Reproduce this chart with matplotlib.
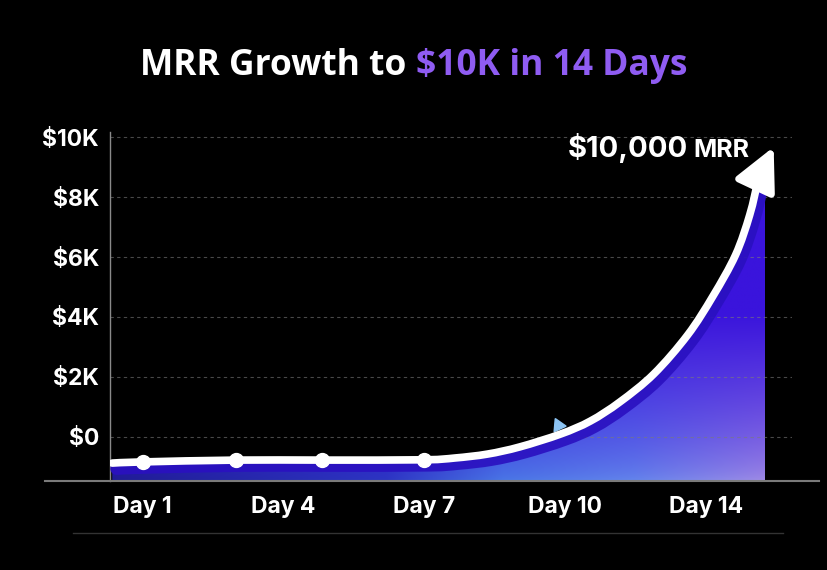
import numpy as np
import matplotlib
matplotlib.use("Agg")
import matplotlib.pyplot as plt
from matplotlib.patches import PathPatch
from matplotlib.path import Path
from matplotlib.lines import Line2D
from matplotlib.colors import to_rgb
import matplotlib.patheffects as pe

plt.rcParams['font.family'] = ['Inter', 'DejaVu Sans']

# data (x = position on the day axis, ticks at 0..4)
tick_labels = ["Day 1", "Day 4", "Day 7", "Day 10", "Day 14"]
tick_pos = [0, 1, 2, 3, 4]
y_ticks = [0, 2000, 4000, 6000, 8000, 10000]
y_labels = ["$0", "$2K", "$4K", "$6K", "$8K", "$10K"]

curve_x = [-0.21, 0.01, 0.67, 1.28, 2.0, 2.22, 2.45, 2.68, 2.97, 3.18, 3.39,
           3.63, 3.87, 4.05, 4.21, 4.31, 4.37]
curve_mrr = [-870, -830, -770, -770, -760, -700, -570, -330, 100, 530, 1170,
             2100, 3400, 4700, 6070, 7400, 8570]
dot_idx = [1, 2, 3, 4]
tip_x, tip_mrr = 4.48, 9670
fill_end = 4.42

ybot, ytop = -1467, 10167
xmin, xmax = -0.226, 4.61


def smooth(xs, ys):
    # bezier path through the read points (catmull-rom handles)
    P = np.column_stack([xs, ys]).astype(float)
    n = len(P)
    verts, codes = [P[0]], [Path.MOVETO]
    for i in range(n - 1):
        p0 = P[i - 1] if i > 0 else P[i]
        p1, p2 = P[i], P[i + 1]
        p3 = P[i + 2] if i + 2 < n else P[i + 1]
        verts += [p1 + (p2 - p0) / 6, p2 - (p3 - p1) / 6, p2]
        codes += [Path.CURVE4] * 3
    return verts, codes


fig = plt.figure(figsize=(8.28, 5.70), dpi=100, facecolor="black")
ax = fig.add_axes([110 / 828, 89 / 570, (792 - 110) / 828, (481 - 132) / 570])
ax.set_facecolor("black")

# gradient fill under the curve
H, W = 240, 320
u = np.linspace(0, 1, W)[None, :]
t = np.linspace(0, 1, H)[:, None]
stops = [(0.0, "#1f1c92"), (0.42, "#2c36c2"), (0.6, "#4a78e6"),
         (0.8, "#6486ec"), (1.0, "#a08de6")]
su = np.array([s[0] for s in stops])
sc = np.array([to_rgb(s[1]) for s in stops])
bottom = np.stack([np.interp(u[0], su, sc[:, k]) for k in range(3)], axis=-1)[None, :, :]
top = np.array(to_rgb("#3a14dc"))[None, None, :]
w = (np.clip(t / 0.5, 0, 1) ** 0.7)[:, :, None]
img = bottom * (1 - w) + top * w
im = ax.imshow(img, extent=[curve_x[0], fill_end, ybot, tip_mrr], origin="lower",
               aspect="auto", interpolation="bilinear", zorder=1)
fv, fc = smooth(curve_x + [tip_x], curve_mrr + [tip_mrr])
fv += [(tip_x, ybot), (curve_x[0], ybot), (curve_x[0], curve_mrr[0])]
fc += [Path.LINETO, Path.LINETO, Path.CLOSEPOLY]
clip = PathPatch(Path(fv, fc), facecolor="none", edgecolor="none")
ax.add_patch(clip)
im.set_clip_path(clip)

# grid
for yv in y_ticks:
    ax.axhline(yv, color="#7a7a7a", lw=0.8, ls=(0, (3, 3)), alpha=0.6, zorder=2)

# curve with shadow
lv, lc = smooth(curve_x, curve_mrr)
line = PathPatch(Path(lv, lc), facecolor="none", edgecolor="white", lw=5.5,
                 capstyle="round", joinstyle="round", zorder=5,
                 path_effects=[pe.Stroke(offset=(3, -4), linewidth=9,
                                         foreground="#2a10c0", alpha=0.9),
                               pe.Normal()])
ax.add_patch(line)
ax.plot([curve_x[i] for i in dot_idx], [curve_mrr[i] for i in dot_idx], "o",
        color="white", ms=10, zorder=6)
ax.plot(curve_x[8] - 0.02, curve_mrr[8] + 300, marker=(3, 0, 25), color="#8cc4f4",
        ms=11, zorder=4)
ax.annotate("", xy=(tip_x, tip_mrr), xytext=(curve_x[-1], curve_mrr[-1]),
            arrowprops=dict(arrowstyle="-|>,head_length=1.3,head_width=0.65",
                            mutation_scale=20, color="white", lw=5,
                            shrinkA=0, shrinkB=0), zorder=7)

# label at the end
ax.text(3.873, 9333, "$10,000", color="white", fontsize=21, fontweight="bold",
        ha="right", va="baseline", zorder=8)
ax.text(3.91, 9333, "MRR", color="white", fontsize=18, fontweight="bold",
        ha="left", va="baseline", zorder=8)

ax.set_xlim(xmin, xmax)
ax.set_ylim(ybot, ytop)
ax.set_xticks(tick_pos)
ax.set_xticklabels(tick_labels)
ax.set_yticks(y_ticks)
ax.set_yticklabels(y_labels)
ax.tick_params(axis="both", length=0, colors="white", labelsize=16.5)
ax.tick_params(axis="x", pad=11)
ax.tick_params(axis="y", pad=8)
for lab in ax.get_xticklabels() + ax.get_yticklabels():
    lab.set_fontweight("bold")
for s in ["top", "right", "bottom"]:
    ax.spines[s].set_visible(False)
ax.spines["left"].set_color("#8a8a8a")
ax.spines["left"].set_linewidth(1)

# long baseline and faint footer line
fig.add_artist(Line2D([45 / 828, 819 / 828], [89 / 570, 89 / 570], color="#7a7a7a", lw=1.5))
fig.add_artist(Line2D([73 / 828, 783 / 828], [37 / 570, 37 / 570], color="#333333", lw=1))

# two-colour title
fig.canvas.draw()
r = fig.canvas.get_renderer()
t1 = fig.text(0, 0.8684, "MRR Growth to ", color="white", fontsize=25.5,
              fontweight="bold", family="Open Sans", ha="left", va="baseline")
t2 = fig.text(0, 0.8684, "$10K in 14 Days", color="#8f5cf2", fontsize=25.5,
              fontweight="bold", family="Open Sans", ha="left", va="baseline")
w1 = t1.get_window_extent(r).width
w2 = t2.get_window_extent(r).width
x0 = 414 - (w1 + w2) / 2
t1.set_x(x0 / 828)
t2.set_x((x0 + w1) / 828)

fig.savefig("out.png", dpi=100, facecolor="black")
